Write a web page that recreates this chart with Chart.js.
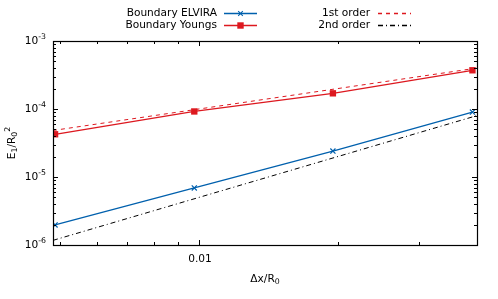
<!DOCTYPE html>
<html>
<head>
<title>Error convergence</title>
<script src="https://cdn.jsdelivr.net/npm/chart.js@4/dist/chart.umd.min.js"></script>
<style>
  body { margin: 0; background: #fff; }
</style>
</head>
<body>
<canvas id="myChart" width="498" height="299"></canvas>
<script>
// data
const dx = [0.00488, 0.00977, 0.0195, 0.0391];
const elvira = [1.97e-6, 6.9e-6, 2.41e-5, 9.03e-5];
const youngs = [4.25e-5, 9.2e-5, 1.70e-4, 3.71e-4];
const refX = [0.00483, 0.04];
const firstOrder = [4.83e-5, 4.0e-4];
const secondOrder = [1.17e-6, 8.0e-5];

const xRange = [0.00483, 0.04];
const yRange = [1e-6, 1e-3];
const xMajor = [0.01];
const xMajorLabels = ['0.01'];
const xMinor = [0.005, 0.006, 0.007, 0.008, 0.009, 0.02, 0.03];
const yExp = [-6, -5, -4, -3];

const blue = 'rgb(0, 96, 173)';
const red = 'rgb(221, 24, 31)';
const font = '"DejaVu Sans", sans-serif';
const fs = 10.6;   // main text size
const ss = 7.8;    // sub/superscript size

function pts(xs, ys) {
    return xs.map((x, i) => ({ x: x, y: ys[i] }));
}

const legendItems = [
    { label: 'Boundary ELVIRA', color: blue, dash: [], marker: 'cross', col: 0, row: 0 },
    { label: 'Boundary Youngs', color: red, dash: [], marker: 'square', col: 0, row: 1 },
    { label: '1st order', color: red, dash: [4, 4], marker: null, col: 1, row: 0 },
    { label: '2nd order', color: '#000', dash: [5, 3, 1, 3], marker: null, col: 1, row: 1 }
];

// draw text made of pieces with sub/superscripts
function richText(ctx, parts, x, y, align) {
    let w = 0;
    parts.forEach(p => {
        ctx.font = p.size + 'px ' + font;
        w += ctx.measureText(p.t).width;
    });
    let cx = align === 'right' ? x - w : align === 'center' ? x - w / 2 : x;
    ctx.textAlign = 'left';
    ctx.textBaseline = 'middle';
    parts.forEach(p => {
        ctx.font = p.size + 'px ' + font;
        ctx.fillText(p.t, cx, y + (p.dy || 0));
        cx += ctx.measureText(p.t).width;
    });
}

function drawMarker(ctx, kind, x, y, color) {
    ctx.save();
    ctx.setLineDash([]);
    ctx.strokeStyle = color;
    ctx.fillStyle = color;
    ctx.lineWidth = 1.1;
    if (kind === 'cross') {
        ctx.beginPath();
        ctx.moveTo(x - 2.3, y - 2.3); ctx.lineTo(x + 2.3, y + 2.3);
        ctx.moveTo(x - 2.3, y + 2.3); ctx.lineTo(x + 2.3, y - 2.3);
        ctx.stroke();
    } else if (kind === 'square') {
        ctx.fillRect(x - 3.2, y - 3.2, 6.4, 6.4);
    }
    ctx.restore();
}

const frame = {
    id: 'frame',
    afterDraw(chart) {
        const ctx = chart.ctx;
        const a = chart.chartArea;
        const xs = chart.scales.x, ys = chart.scales.y;
        ctx.save();
        ctx.strokeStyle = '#000';
        ctx.fillStyle = '#000';
        ctx.lineWidth = 1;
        ctx.setLineDash([]);

        // ticks on all four sides, pointing inward
        ctx.beginPath();
        const xt = (v, len) => {
            const px = Math.round(xs.getPixelForValue(v)) + 0.5;
            ctx.moveTo(px, a.bottom); ctx.lineTo(px, a.bottom - len);
            ctx.moveTo(px, a.top); ctx.lineTo(px, a.top + len);
        };
        const yt = (v, len) => {
            const py = Math.round(ys.getPixelForValue(v)) + 0.5;
            ctx.moveTo(a.left, py); ctx.lineTo(a.left + len, py);
            ctx.moveTo(a.right, py); ctx.lineTo(a.right - len, py);
        };
        xMajor.forEach(v => xt(v, 5));
        xMinor.forEach(v => xt(v, 3));
        yExp.forEach(e => {
            yt(Math.pow(10, e), 5);
            if (e < -3) {
                for (let m = 2; m <= 9; m++) yt(m * Math.pow(10, e), 3);
            }
        });
        ctx.stroke();

        // border
        ctx.lineWidth = 1.2;
        ctx.strokeRect(Math.round(a.left) + 0.5, Math.round(a.top) + 0.5,
            Math.round(a.right - a.left), Math.round(a.bottom - a.top));

        // tick labels
        ctx.fillStyle = '#000';
        xMajor.forEach((v, i) => {
            ctx.font = fs + 'px ' + font;
            ctx.textAlign = 'center';
            ctx.textBaseline = 'middle';
            ctx.fillText(xMajorLabels[i], xs.getPixelForValue(v) + 1, a.bottom + 14);
        });
        yExp.forEach(e => {
            const py = ys.getPixelForValue(Math.pow(10, e));
            richText(ctx, [
                { t: '10', size: fs },
                { t: String(e), size: ss, dy: -4 }
            ], a.left - 7, py, 'right');
        });

        // axis titles
        richText(ctx, [
            { t: 'Δx/R', size: fs },
            { t: '0', size: ss, dy: 3 }
        ], (a.left + a.right) / 2, a.bottom + 34, 'center');

        ctx.save();
        ctx.translate(12, (a.top + a.bottom) / 2);
        ctx.rotate(-Math.PI / 2);
        richText(ctx, [
            { t: 'E', size: fs },
            { t: '1', size: ss, dy: 3 },
            { t: '/R', size: fs },
            { t: '0', size: ss, dy: 3 },
            { t: '2', size: ss, dy: -4 }
        ], 0, 0, 'center');
        ctx.restore();

        // legend, two columns like gnuplot's key
        const cols = [{ textRight: 217, s0: 224, s1: 257 }, { textRight: 370, s0: 378, s1: 411 }];
        const rows = [13, 25];
        legendItems.forEach(it => {
            const c = cols[it.col], y = rows[it.row];
            ctx.fillStyle = '#000';
            ctx.font = fs + 'px ' + font;
            ctx.textAlign = 'right';
            ctx.textBaseline = 'middle';
            ctx.fillText(it.label, c.textRight, y);
            ctx.strokeStyle = it.color;
            ctx.lineWidth = 1.3;
            ctx.setLineDash(it.dash);
            ctx.beginPath();
            ctx.moveTo(c.s0, y + 0.5); ctx.lineTo(c.s1, y + 0.5);
            ctx.stroke();
            if (it.marker) drawMarker(ctx, it.marker, (c.s0 + c.s1) / 2, y + 0.5, it.color);
        });
        ctx.restore();
    }
};

const data = {
    datasets: [
        {
            label: '1st order',
            data: pts(refX, firstOrder),
            borderColor: red,
            borderWidth: 1,
            borderDash: [4, 4],
            pointRadius: 0,
            showLine: true
        },
        {
            label: '2nd order',
            data: pts(refX, secondOrder),
            borderColor: '#000',
            borderWidth: 1,
            borderDash: [5, 3, 1, 3],
            pointRadius: 0,
            showLine: true
        },
        {
            label: 'Boundary ELVIRA',
            data: pts(dx, elvira),
            borderColor: blue,
            backgroundColor: blue,
            borderWidth: 1.3,
            pointStyle: 'crossRot',
            pointRadius: 3.6,
            pointBorderWidth: 1.2,
            showLine: true
        },
        {
            label: 'Boundary Youngs',
            data: pts(dx, youngs),
            borderColor: red,
            backgroundColor: red,
            borderWidth: 1.3,
            pointStyle: 'rect',
            pointRadius: 4.5,
            pointBorderWidth: 0,
            showLine: true
        }
    ]
};

const myChart = new Chart(document.getElementById('myChart'), {
    type: 'scatter',
    data: data,
    options: {
        responsive: false,
        animation: false,
        devicePixelRatio: 1,
        layout: { padding: { left: 53, right: 21, top: 41, bottom: 54 } },
        plugins: { legend: { display: false }, tooltip: { enabled: false } },
        scales: {
            x: { type: 'logarithmic', display: false, min: xRange[0], max: xRange[1] },
            y: { type: 'logarithmic', display: false, min: yRange[0], max: yRange[1] }
        }
    },
    plugins: [frame]
});
</script>
</body>
</html>
